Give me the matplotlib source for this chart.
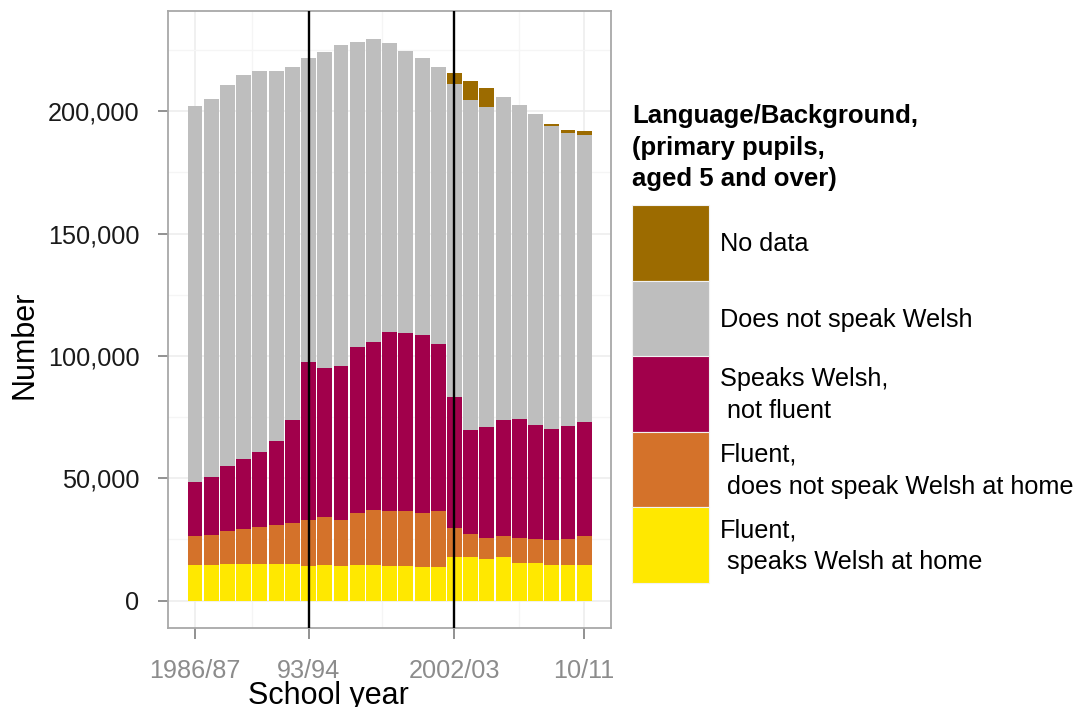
import numpy as np
import matplotlib
matplotlib.use("Agg")
import matplotlib.pyplot as plt
from matplotlib.patches import Rectangle
from matplotlib.ticker import FuncFormatter, MultipleLocator

plt.rcParams['font.family'] = ['Liberation Sans', 'DejaVu Sans']

# ---------------- data ----------------
years = ['1986/87', '1987/88', '1988/89', '1989/90', '1990/91', '1991/92', '1992/93',
         '1993/94', '1994/95', '1995/96', '1996/97', '1997/98', '1998/99', '1999/00',
         '2000/01', '2001/02', '2002/03', '2003/04', '2004/05', '2005/06', '2006/07',
         '2007/08', '2008/09', '2009/10', '2010/11']
tick_years = ['1986/87', '1993/94', '2002/03', '2010/11']
tick_labels = ['1986/87', '93/94', '2002/03', '10/11']
marker_years = ['1993/94', '2002/03']

fluent_home = [14700, 14700, 14800, 15100, 14800, 14800, 14800, 14300, 14600, 14300,
               14600, 14400, 14300, 14200, 13900, 13600, 17700, 17900, 16900, 17700,
               15200, 15200, 14700, 14700, 14400]
fluent_not_home = [11800, 12200, 13700, 14300, 15300, 16000, 16900, 18600, 19700, 18500,
                   21300, 22500, 22300, 22300, 21800, 23000, 12000, 9400, 8800, 8600,
                   10300, 9900, 10100, 10400, 11900]
speaks_not_fluent = [22000, 23600, 26400, 28400, 30500, 34600, 42000, 64800, 60900, 63200,
                     67800, 68700, 73300, 72900, 72700, 68200, 53500, 42300, 45400, 47500,
                     48600, 46700, 45400, 46200, 46800]
not_speak = [153700, 154400, 156000, 157100, 156000, 151200, 144600, 124100, 128900, 131300,
             124800, 124100, 117900, 115300, 113300, 113300, 127900, 134900, 130600, 131900,
             128400, 127000, 123700, 119900, 117400]
no_data = [0, 0, 0, 0, 0, 0, 0, 0, 0, 0, 0, 0, 0, 0, 0, 0,
           4700, 7900, 7900, 0, 0, 0, 800, 1200, 1300]

series_names = ['Fluent,\n speaks Welsh at home',
                'Fluent,\n does not speak Welsh at home',
                'Speaks Welsh,\n not fluent',
                'Does not speak Welsh',
                'No data']
series_values = [fluent_home, fluent_not_home, speaks_not_fluent, not_speak, no_data]
series_colors = ['#FFE800', '#D4722A', '#A1004B', '#BEBEBE', '#9C6B00']
legend_title = 'Language/Background,\n(primary pupils,\naged 5 and over)'

# ---------------- figure ----------------
W, H = 1082, 707
fig = plt.figure(figsize=(W / 100, H / 100), dpi=100)

def fx(px):
    return px / W

def fy(py):
    return 1 - py / H

ax_l, ax_r, ax_t, ax_b = 168, 611, 11, 628
ax = fig.add_axes([fx(ax_l), fy(ax_b), fx(ax_r) - fx(ax_l), fy(ax_t) - fy(ax_b)])

x = np.arange(len(years))
bottom = np.zeros(len(years))
for vals, col in zip(series_values, series_colors):
    v = np.array(vals, dtype=float)
    ax.bar(x, v, bottom=bottom, width=0.92, color=col, edgecolor='none', zorder=2)
    bottom += v

for yr in marker_years:
    ax.axvline(years.index(yr), color='black', lw=1.7, zorder=3)

ax.set_xlim(-1.665, 25.65)
ax.set_ylim(-11200, 241000)

ax.yaxis.set_major_locator(MultipleLocator(50000))
ax.yaxis.set_minor_locator(MultipleLocator(25000))
ax.yaxis.set_major_formatter(FuncFormatter(lambda v, p: f'{int(v):,}'))
tick_pos = [years.index(t) for t in tick_years]
ax.set_xticks(tick_pos)
ax.set_xticklabels(tick_labels)
ax.set_xticks([3.5, 11.5, 20], minor=True)

ax.grid(True, which='major', color='#EDEDED', lw=1.2, zorder=0)
ax.grid(True, which='minor', color='#F5F5F5', lw=1.0, zorder=0)
ax.set_axisbelow(True)

for s in ax.spines.values():
    s.set_color('#A8A8A8')
    s.set_linewidth(1.3)

ax.tick_params(axis='y', which='major', labelsize=18.2, labelcolor='#1A1A1A',
               color='#7F7F7F', length=7.5, width=1.2, pad=13)
ax.tick_params(axis='x', which='major', labelsize=18.2, labelcolor='#8C8C8C',
               color='#7F7F7F', length=8, width=1.2, pad=14)
ax.tick_params(which='minor', length=0)

ax.set_ylabel('Number', fontsize=22, color='#000000')
ax.yaxis.set_label_coords(-0.29, 0.459)
ax.set_xlabel('School year', fontsize=22, color='#000000')
ax.xaxis.set_label_coords(0.363, -0.086)

# ---------------- legend (drawn manually) ----------------
fig.text(fx(632), fy(104), legend_title, fontsize=18.5, fontweight='bold',
         ha='left', va='top', linespacing=1.4, color='#000000')
key_l, key_w = 632, 77
key_tops = [205, 280.5, 356, 431.5, 507]
key_h = 75.5
# legend order: top = No data ... bottom = fluent at home
for i, idx in enumerate([4, 3, 2, 1, 0]):
    top = key_tops[i]
    fig.patches.append(Rectangle((fx(key_l), fy(top + key_h)), fx(key_w), key_h / H,
                                 transform=fig.transFigure, facecolor=series_colors[idx],
                                 edgecolor='#F2F2F2', lw=0.8))
    fig.text(fx(720), fy(top + key_h / 2 + 1.5), series_names[idx], fontsize=18.2,
             ha='left', va='center', linespacing=1.42, color='#000000')

fig.savefig('out.png', dpi=100, facecolor='white')
